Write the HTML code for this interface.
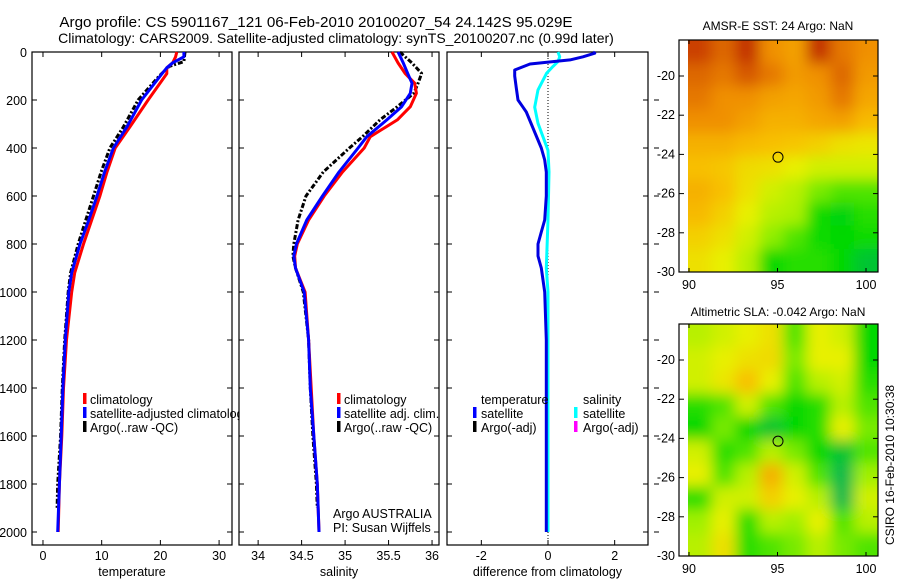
<!DOCTYPE html>
<html><head><meta charset="utf-8"><style>
html,body{margin:0;padding:0;background:#fff;width:900px;height:580px;overflow:hidden}
svg{font-family:"Liberation Sans",sans-serif;display:block}
</style></head><body>
<svg id="chart" width="900" height="580" viewBox="0 0 900 580" xmlns="http://www.w3.org/2000/svg">
<defs>
<filter id="blur" x="-10%" y="-10%" width="120%" height="120%"><feGaussianBlur stdDeviation="7"/></filter>
<clipPath id="clipTop"><rect x="688" y="40" width="190" height="232"/></clipPath>
<clipPath id="clipBot"><rect x="688" y="324" width="190" height="232"/></clipPath>
</defs>
<text x="316" y="27" font-size="15.2" text-anchor="middle">Argo profile: CS 5901167_121 06-Feb-2010 20100207_54 24.142S 95.029E</text>
<text x="336" y="43" font-size="14" text-anchor="middle">Climatology: CARS2009. Satellite-adjusted climatology: synTS_20100207.nc (0.99d later)</text>
<g id="plots"></g>
<text x="778" y="30" font-size="12" text-anchor="middle">AMSR-E SST: 24 Argo: NaN</text>
<text x="778" y="316" font-size="12" text-anchor="middle">Altimetric SLA: -0.042 Argo: NaN</text>
<text x="0" y="0" font-size="12" text-anchor="middle" transform="translate(894,465) rotate(-90)">CSIRO 16-Feb-2010 10:30:38</text>
</svg>
<script>
// ---- profile data (depth in m) ----
const tDepth = [0,20,45,66,90,200,312,400,500,600,700,800,920,1000,1200,1400,1600,1800,2000];
const tClim  = [22.8,22.6,22.1,21.1,21.1,17.9,14.8,12.3,10.9,9.7,8.3,6.9,5.4,4.9,4.0,3.5,3.2,2.8,2.6];
const tSat   = [24.0,24.0,22.1,21.1,20.3,16.8,14.3,12.0,10.5,9.2,7.8,6.3,4.9,4.4,3.8,3.4,3.1,2.8,2.5];
const tArgoD = [0,40,60,100,200,312,400,500,600,700,800,920,1000,1200,1400,1600,1800,1900];
const tArgo  = [24.2,24.0,21.5,19.8,16.2,13.7,11.4,9.9,8.6,7.3,6.0,4.7,4.3,3.7,3.3,3.0,2.5,2.4];
const sDepth = [0,46,89,130,172,228,283,353,400,500,600,700,800,850,900,1000,1200,1400,1600,1800,2000];
const sClim  = [35.54,35.61,35.69,35.80,35.82,35.75,35.60,35.29,35.22,34.97,34.76,34.58,34.45,34.42,34.43,34.54,34.58,34.61,34.64,34.68,34.70];
const sSat   = [35.61,35.67,35.72,35.77,35.75,35.65,35.48,35.25,35.15,34.93,34.74,34.56,34.44,34.41,34.43,34.53,34.58,34.60,34.64,34.68,34.70];
const sArgoD = [0,46,89,130,172,228,283,353,400,500,600,700,800,850,900,1000,1200,1400,1600,1800,1900];
const sArgo  = [35.63,35.77,35.88,35.84,35.79,35.60,35.40,35.20,35.05,34.75,34.55,34.46,34.41,34.40,34.43,34.52,34.58,34.60,34.63,34.67,34.68];
const dDepthT = [0,5,20,33,50,75,100,150,200,230,250,300,350,400,450,500,600,700,750,800,850,900,1000,1200,2000];
const dTemp   = [1.35,1.4,1.05,0.66,-0.54,-1.0,-1.0,-0.95,-0.9,-0.75,-0.65,-0.5,-0.35,-0.2,-0.1,-0.05,-0.05,-0.1,-0.2,-0.3,-0.3,-0.2,-0.1,-0.05,-0.05];
const dDepthS = [0,20,40,60,88,158,230,297,410,500,700,900,1000,2000];
const dSal    = [0.3,0.35,0.3,0.15,-0.04,-0.3,-0.4,-0.3,0.0,0.03,0.0,-0.05,0.0,0.0];
const depthTicks = [0,200,400,600,800,1000,1200,1400,1600,1800,2000];
const tTicks = [0,10,20,30];
const sTicks = [34,34.5,35,35.5,36];
const sTickLabels = ["34","34.5","35","35.5","36"];
const dTicks = [-2,0,2];
// ---- map data ----
const sstGrid = [
[0.95,0.9,0.97,0.85,0.8,0.97,0.88,0.85],
[0.9,0.88,0.92,0.88,0.82,0.85,0.9,0.82],
[0.88,0.85,0.85,0.8,0.78,0.82,0.88,0.78],
[0.85,0.85,0.8,0.75,0.75,0.78,0.8,0.72],
[0.75,0.75,0.72,0.7,0.68,0.65,0.6,0.58],
[0.7,0.68,0.62,0.6,0.55,0.5,0.5,0.5],
[0.75,0.7,0.6,0.5,0.45,0.35,0.3,0.3],
[0.72,0.65,0.55,0.45,0.42,0.22,0.18,0.25],
[0.65,0.6,0.5,0.38,0.3,0.22,0.2,0.22],
[0.6,0.55,0.45,0.2,0.25,0.25,0.2,0.1]];
const slaGrid = [
[0.45,0.5,0.55,0.6,0.3,0.55,0.5,0.2],
[0.5,0.55,0.6,0.62,0.35,0.55,0.55,0.2],
[0.5,0.58,0.7,0.55,0.3,0.45,0.5,0.25],
[0.25,0.3,0.5,0.3,0.2,0.25,0.45,0.3],
[0.2,0.35,0.2,0.1,0.2,0.25,0.55,0.35],
[0.5,0.25,0.3,0.45,0.35,0.2,0.1,0.3],
[0.55,0.3,0.45,0.75,0.5,0.3,0.05,0.4],
[0.25,0.5,0.5,0.65,0.55,0.45,0.05,0.5],
[0.4,0.55,0.25,0.45,0.4,0.55,0.3,0.45],
[0.45,0.6,0.25,0.3,0.35,0.45,0.35,0.3]];
const lonTicks = [90,95,100];
const latTicks = [-20,-22,-24,-26,-28,-30];
const argoLon = 95.029, argoLat = -24.142;

const NS='http://www.w3.org/2000/svg';
const root=document.getElementById('plots');
function mk(tag,attrs,parent){const e=document.createElementNS(NS,tag);for(const k in attrs)e.setAttribute(k,attrs[k]);(parent||root).appendChild(e);return e;}
const yD = d => 52 + d*0.24;
const panels = {
 temp:{x0:32,x1:232,vmin:-1.87,vmax:32.2},
 sal:{x0:239,x1:439,vmin:33.78,vmax:36.08},
 diff:{x0:447,x1:648,vmin:-3.03,vmax:3.0}};
function xs(p,v){return p.x0+(v-p.vmin)/(p.vmax-p.vmin)*(p.x1-p.x0);}
function drawAxes(p,name,ticks,labels,xlabel,showDepth){
  const b=mk('rect',{x:p.x0,y:52,width:p.x1-p.x0,height:493,fill:'none',stroke:'#000','stroke-width':1.2});
  
  
  depthTicks.forEach(d=>{
    const y=yD(d);
    const t1=mk('line',{x1:p.x0,x2:p.x0+5,y1:y,y2:y,stroke:'#000'});
    
    
    mk('line',{x1:p.x1,x2:p.x1-5,y1:y,y2:y,stroke:'#000'});
    if(showDepth){const t=mk('text',{x:p.x0-5,y:y+5,'font-size':12.5,'text-anchor':'end'});t.textContent=d;
      
      }
  });
  ticks.forEach((v,i)=>{
    const x=xs(p,v);
    mk('line',{x1:x,x2:x,y1:545,y2:540,stroke:'#000'});
    mk('line',{x1:x,x2:x,y1:52,y2:57,stroke:'#000'});
    const t=mk('text',{x:x,y:560,'font-size':12.5,'text-anchor':'middle'});t.textContent=labels[i];
    
    
  });
  const xl=mk('text',{x:(p.x0+p.x1)/2,y:576,'font-size':12.5,'text-anchor':'middle'});xl.textContent=xlabel;
  
  
}
function drawLine(p,depths,vals,color,dash,name){
  const pts=depths.map((d,i)=>xs(p,vals[i]).toFixed(1)+','+yD(d).toFixed(1)).join(' ');
  const a={points:pts,fill:'none',stroke:color,'stroke-width':3,'stroke-linejoin':'round'};
  if(dash)a['stroke-dasharray']=dash;
  const l=mk('polyline',a);
  
  
}
function legend(items,x,y0){
  items.forEach((it,i)=>{
    const y=y0+i*14;
    if(it.c){mk('rect',{x:x,y:y-11,width:3.5,height:11,fill:it.c});}
    const t=mk('text',{x:x+(it.off||7),y:y,'font-size':12.5});t.textContent=it.t;
    
    
  });
}
// temperature panel
drawAxes(panels.temp,'temperature',tTicks,tTicks.map(String),'temperature',true);
drawLine(panels.temp,tArgoD,tArgo,'#000','5,2,2,2','temp-argo-line');
drawLine(panels.temp,tDepth,tClim,'#f00',null,'temp-climatology-line');
drawLine(panels.temp,tDepth,tSat,'#00f',null,'temp-satellite-line');
// salinity panel
drawAxes(panels.sal,'salinity',sTicks,sTickLabels,'salinity',false);
drawLine(panels.sal,sArgoD,sArgo,'#000','5,2,2,2','sal-argo-line');
drawLine(panels.sal,sDepth,sClim,'#f00',null,'sal-climatology-line');
drawLine(panels.sal,sDepth,sSat,'#00f',null,'sal-satellite-line');
// diff panel
drawAxes(panels.diff,'difference',dTicks,dTicks.map(String),'difference from climatology',false);
const zx=xs(panels.diff,0);
mk('line',{x1:zx,x2:zx,y1:52,y2:545,stroke:'#000','stroke-dasharray':'1,2'});
drawLine(panels.diff,dDepthS,dSal,'#00ffff',null,'salinity-diff-line');
drawLine(panels.diff,dDepthT,dTemp,'#0000e0',null,'temperature-diff-line');
depthTicks.forEach(d=>{if(d>0)mk('line',{x1:654,x2:659,y1:yD(d),y2:yD(d),stroke:'#000'});});
// legends (clipped in temp panel)
const cp=mk('clipPath',{id:'tclip'});mk('rect',{x:32,y:52,width:207,height:493},cp);
const lg=mk('g',{'clip-path':'url(#tclip)'});
[{c:'#f00',t:'climatology'},{c:'#00f',t:'satellite-adjusted climatology'},{c:'#000',t:'Argo(..raw -QC)'}].forEach((it,i)=>{
  const y=404+i*14;mk('rect',{x:83,y:y-11,width:3.5,height:11,fill:it.c},lg);
  const t=mk('text',{x:90,y:y,'font-size':12.5},lg);t.textContent=it.t;
  
  
});
legend([{c:'#f00',t:'climatology'},{c:'#00f',t:'satellite adj. clim.'},{c:'#000',t:'Argo(..raw -QC)'}],337,404);
legend([{t:'Argo AUSTRALIA',off:0},{t:'PI: Susan Wijffels',off:0}],326,518);
legend([{t:'temperature',off:8},{c:'#00f',t:'satellite',off:8},{c:'#000',t:'Argo(-adj)',off:8}],473,404);
legend([{t:'salinity',off:9},{c:'#0ff',t:'satellite',off:9},{c:'#f0f',t:'Argo(-adj)',off:9}],574,404);

// ---- maps ----
const cmapStops=[[0,[0,176,96]],[0.2,[0,216,0]],[0.4,[160,240,0]],[0.55,[232,240,0]],[0.7,[248,192,0]],[0.85,[240,144,0]],[1,[184,24,0]]];
function cmap(v){for(let i=1;i<cmapStops.length;i++){if(v<=cmapStops[i][0]){const a=cmapStops[i-1],b=cmapStops[i];const f=(v-a[0])/(b[0]-a[0]);
 return 'rgb('+a[1].map((c,k)=>Math.round(c+(b[1][k]-c)*f)).join(',')+')';}}return 'rgb(184,24,0)';}
function drawMap(grid,top,name,clip){
  const lonX=lo=>689+(lo-90)*17.7;
  const latY=la=>top+36+(-20-la)*19.6;
  const lon0=89.94,lon1=100.68,lat0=-18.16,lat1=-30;
  const nr=grid.length,nc=grid[0].length;
  const g=mk('g',{'clip-path':'url(#'+clip+')'});
  const gi=mk('g',{filter:'url(#blur)'},g);
  grid.forEach((row,r)=>row.forEach((v,c)=>{
    let xa=lonX(lon0+(lon1-lon0)*c/nc), xb=lonX(lon0+(lon1-lon0)*(c+1)/nc);
    let ya=latY(lat0+(lat1-lat0)*r/nr), yb=latY(lat0+(lat1-lat0)*(r+1)/nr);
    if(c===0)xa-=20; if(c===nc-1)xb+=20; if(r===0)ya-=20; if(r===nr-1)yb+=20;
    const cell=mk('rect',{x:xa,y:ya,width:xb-xa+0.5,height:yb-ya+0.5,fill:cmap(v)},gi);
    
    
  }));
  const box=mk('rect',{x:679,y:top,width:199,height:232,fill:'none',stroke:'#000','stroke-width':1.2});
  
  
  lonTicks.forEach(lo=>{const x=lonX(lo);mk('line',{x1:x,x2:x,y1:top+232,y2:top+228,stroke:'#000'});mk('line',{x1:x,x2:x,y1:top,y2:top+4,stroke:'#000'});
    const t=mk('text',{x:x,y:top+249,'font-size':12.5,'text-anchor':'middle'});t.textContent=lo;
    
    });
  latTicks.forEach(la=>{const y=latY(la);mk('line',{x1:679,x2:684,y1:y,y2:y,stroke:'#000'});mk('line',{x1:878,x2:873,y1:y,y2:y,stroke:'#000'});
    const t=mk('text',{x:675,y:y+4,'font-size':12.5,'text-anchor':'end'});t.textContent=la;
    
    });
  const m=mk('circle',{cx:lonX(argoLon),cy:latY(argoLat),r:5,fill:'none',stroke:'#000'});
  
  
}
drawMap(sstGrid,40,'sst-map','clipTop');
drawMap(slaGrid,324,'sla-map','clipBot');
</script>
</body></html>
